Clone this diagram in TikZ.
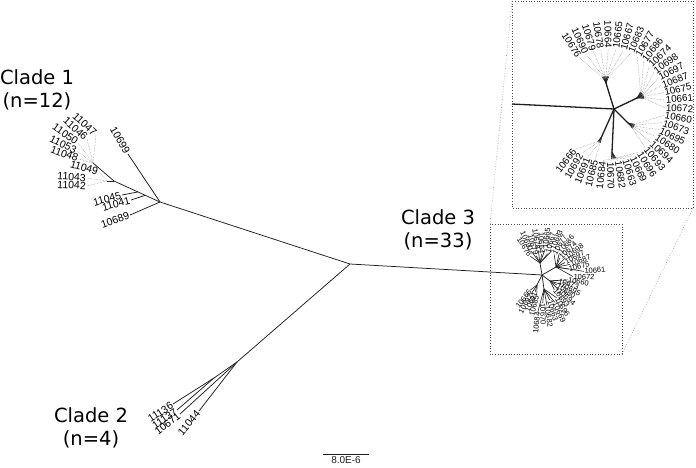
\documentclass[tikz,border=0pt]{standalone}
\usepackage{fontspec}
\setmainfont{Liberation Sans}
\newfontfamily\cladefont{DejaVu Sans}
\usepackage{tikz}
\usetikzlibrary{positioning,calc}
\definecolor{ink}{HTML}{1E1E1E}
\definecolor{leadgray}{HTML}{8A8A8A}
\definecolor{boxgray}{HTML}{4A4A4A}
\tikzset{
  br/.style={ink,line width=0.75pt},
  twig/.style={ink,line width=0.6pt},
  thk/.style={ink,line width=1.3pt},
  ldr/.style={leadgray,densely dotted,line width=0.5pt},
  framebox/.style={boxgray,dotted,line width=0.7pt},
  zoomln/.style={leadgray,dotted,line width=0.6pt},
  leaf/.style={font=\fontsize{10.5}{12}\selectfont,inner sep=1pt},
  insetleaf/.style={font=\fontsize{9.8}{11}\selectfont,inner sep=0.8pt},
  tinyleaf/.style={font=\fontsize{7.5}{8}\selectfont,inner sep=0.5pt},
  clade/.style={font=\cladefont\fontsize{19.5}{23}\selectfont,align=center,inner sep=0pt},
}

\begin{document}
\begin{tikzpicture}[x=1pt,y=-1pt]
  \useasboundingbox (0,0) rectangle (696,467);
  % backbone
  \coordinate (root) at (350,264);
  \coordinate (h1) at (160,202);
  \coordinate (h2) at (237,362);
  \coordinate (h3) at (542,275);
  \draw[br] (h1) -- (root) -- (h3);
  \draw[br] (root) -- (h2);

  % clade 1
  \coordinate (b1) at (114,181); \coordinate (d1) at (93,163); \coordinate (b2) at (107,181);
  \coordinate (j45) at ($(b1)!0.52!(h1)$); \coordinate (j41) at ($(b1)!0.68!(h1)$);
  \coordinate (t45) at (122,195); \coordinate (t41) at (131,200);
  \coordinate (t99) at (128,154); \coordinate (t89) at (130,215);
  \draw[br] (d1) -- (b1) -- (h1); \draw[br] (b1) -- (b2);
  \draw[br] (j45) -- (t45); \draw[br] (j41) -- (t41);
  \draw[br] (h1) -- (t99); \draw[br] (h1) -- (t89);
  \node[leaf,anchor=east,rotate=-60] (c10699) at (t99) {10699};
  \node[leaf,anchor=east,rotate=20] (c10689) at (t89) {10689};
  \node[leaf,anchor=east,rotate=15] (c11045) at (t45) {11045};
  \node[leaf,anchor=east,rotate=15] (c11041) at (t41) {11041};
  \foreach \lab/\x/\y/\rot/\hub in {11047/96/135/-43/d1,11046/87/139/-42/d1,11050/78/143/-35/d1,
      11053/77/151/-26/d1,11048/79/159/-20/d1,11049/99/172/-16/b2,11043/87/178/-4/b2,11042/87/186/-3/b2}{
    \node[leaf,anchor=east,rotate=\rot] (c\lab) at (\x,\y) {\lab};
    \draw[ldr] (c\lab.east) -- (\hub);
  }
  \node[clade] (cl1) at (37,90) {Clade 1\\(n=12)};

  % clade 2
  \coordinate (s2) at (214,378);
  \coordinate (t136) at (173,404); \coordinate (t137) at (177,410);
  \coordinate (t671) at (180,414); \coordinate (t044) at (199,411);
  \draw[br] (h2) -- (s2) -- (t136); \draw[br] (s2) -- (t137);
  \draw[br] (h2) -- (t671); \draw[br] (h2) -- (t044);
  \node[leaf,anchor=east,rotate=33] (c11136) at (t136) {11136};
  \node[leaf,anchor=east,rotate=35] (c11137) at (t137) {11137};
  \node[leaf,anchor=east,rotate=38] (c10671) at (t671) {10671};
  \node[leaf,anchor=east,rotate=50] (c11044) at (t044) {11044};
  \node[clade] (cl2) at (91,428) {Clade 2\\(n=4)};

  % clade 3, small tree
  \coordinate (ss1) at (540,263); \coordinate (ss2) at (556,267); \coordinate (ss3) at (550,281);
  \coordinate (ss4) at (544,289); \coordinate (ss5) at (537,285);
  \foreach \k in {1,...,5}{\draw[br] (h3) -- (ss\k);}
  \foreach \lab/\rad [count=\i from 0] in {10676/22,10690/26,10679/20,10678/25,10664/21,10665/26,10667/22,10683/27,
      10677/24,10686/28,10674/25,10698/29,10697/26,10687/30,10675/27,10661/42,10672/31,10660/26,
      10673/17,10695/21,10680/18,10694/22,10693/19,10696/27,10669/30,10663/26,10682/31,10670/28,
      10684/37,10685/21,10691/18,10692/22,10666/19}{
    \pgfmathsetmacro\ang{122-7.8*\i}
    \pgfmathtruncatemacro\grp{\i<8?1:(\i<17?2:(\i<23?3:(\i<29?4:5)))}
    \pgfmathsetmacro\cs{cos(\ang)}
    \ifdim\cs pt<0pt \def\anc{east}\pgfmathsetmacro\rot{\ang+180}\else\def\anc{west}\let\rot\ang\fi
    \coordinate (st\i) at ($(h3)+({\rad*cos(\ang)},{-\rad*sin(\ang)})$);
    \draw[twig] (ss\grp) -- (st\i);
    \node[tinyleaf,anchor=\anc,rotate=\rot] (sl\i) at (st\i) {\lab};
  }
  \coordinate (smNW) at (490,224); \coordinate (smSE) at (622,354);
  \draw[framebox] (smNW) rectangle (smSE);
  \node[clade] (cl3) at (438,230) {Clade 3\\(n=33)};

  % inset
  \coordinate (inNW) at (512,1); \coordinate (inSE) at (693,208);
  \draw[framebox] (inNW) rectangle (inSE);
  \draw[zoomln] (smNW) -- (inNW);
  \draw[zoomln] (smSE) -- (inSE);
  \coordinate (ie) at (512,104); \coordinate (i0) at (614,109); \coordinate (ic) at (609,105);
  \coordinate (is1) at (606,83); \coordinate (is2) at (637,98); \coordinate (is3) at (628,123);
  \coordinate (is4) at (612,152); \coordinate (is5) at (602,136);
  \draw[thk] (ie) -- (i0);
  \foreach \k in {1,...,5}{\draw[thk] (i0) -- (is\k);}
  \foreach \lab [count=\i from 0] in {10676,10690,10679,10678,10664,10665,10667,10683,10677,10686,10674,
      10698,10697,10687,10675,10661,10672,10660,10673,10695,10680,10694,10693,10696,10669,10663,
      10682,10670,10684,10685,10691,10692,10666}{
    \pgfmathsetmacro\ang{122-7.8*\i}
    \pgfmathtruncatemacro\grp{\i<8?1:(\i<17?2:(\i<23?3:(\i<29?4:5)))}
    \pgfmathsetmacro\cs{cos(\ang)}
    \ifdim\cs pt<0pt \def\anc{east}\pgfmathsetmacro\rot{\ang+180}\else\def\anc{west}\let\rot\ang\fi
    \coordinate (it\i) at ($(is\grp)+({7*cos(\ang)},{-7*sin(\ang)})$);
    \node[insetleaf,anchor=\anc,rotate=\rot] (il\i) at ($(ic)+({56*cos(\ang)},{-56*sin(\ang)})$) {\lab};
    \draw[twig] (is\grp) -- (it\i);
    \draw[ldr] (it\i) -- (il\i.\anc);
  }

  % scale bar
  \coordinate (sbl) at (323,454); \coordinate (sbr) at (369,454);
  \draw[br] (sbl) -- (sbr) node[midway,below=1pt,font=\fontsize{10}{11}\selectfont,inner sep=1pt] (sbt) {8.0E-6};
\end{tikzpicture}
\end{document}
